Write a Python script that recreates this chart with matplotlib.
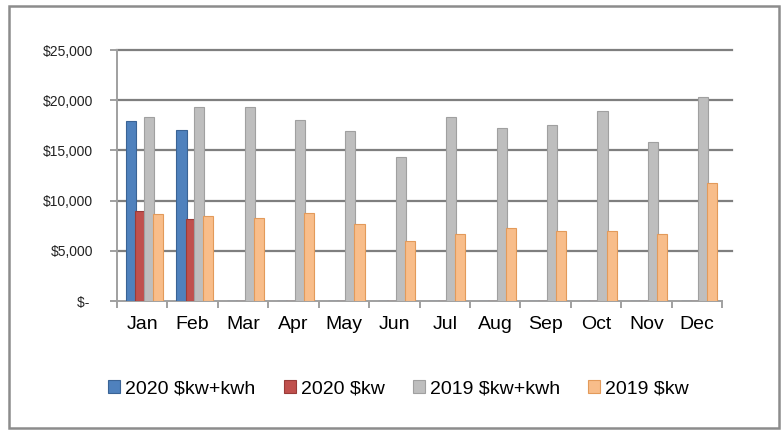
import numpy as np
import matplotlib
matplotlib.use("Agg")
import matplotlib.pyplot as plt
from matplotlib.patches import Rectangle

plt.rcParams['font.family'] = ['Liberation Sans', 'DejaVu Sans']

# data
months = ["Jan", "Feb", "Mar", "Apr", "May", "Jun",
          "Jul", "Aug", "Sep", "Oct", "Nov", "Dec"]
kw_kwh_2020 = [17900, 17000, 0, 0, 0, 0, 0, 0, 0, 0, 0, 0]
kw_2020 = [9000, 8200, 0, 0, 0, 0, 0, 0, 0, 0, 0, 0]
kw_kwh_2019 = [18300, 19300, 19300, 18000, 16900, 14300,
               18300, 17200, 17500, 18900, 15800, 20300]
kw_2019 = [8700, 8500, 8300, 8800, 7700, 6000,
           6700, 7300, 7000, 7000, 6700, 11800]
series_names = ["2020 $kw+kwh", "2020 $kw", "2019 $kw+kwh", "2019 $kw"]
y_ticks = [0, 5000, 10000, 15000, 20000, 25000]

fig = plt.figure(figsize=(7.82, 4.30), dpi=100)
ax = fig.add_axes([117 / 782, 1 - 301 / 430, (722 - 117) / 782, (301 - 50) / 430])

x = np.arange(len(months))
w = 0.2
offsets = [-0.22, -0.04, 0.13, 0.31]
colors = ["#4F81BD", "#C0504D", "#BEBEBE", "#F8BD8A"]
edges = ["#3A6395", "#993B38", "#A0A0A0", "#E39A5A"]
all_series = [kw_kwh_2020, kw_2020, kw_kwh_2019, kw_2019]

handles = []
for vals, off, c, e in zip(all_series, offsets, colors, edges):
    b = ax.bar(x + off, vals, width=w, color=c, edgecolor=e, linewidth=0.8, zorder=3)
    handles.append(b)

ax.set_xlim(-0.5, len(months) - 0.5)
ax.set_ylim(0, 25000)
ax.set_yticks(y_ticks)
ax.set_yticklabels(["$- " if v == 0 else "${:,.0f}".format(v) for v in y_ticks],
                   fontsize=10, color="#222222")
ax.set_xticks(x)
ax.set_xticklabels(months, fontsize=14)
ax.set_xticks(np.arange(-0.5, len(months)), minor=True)
ax.tick_params(axis="x", which="major", length=0, pad=11)
ax.tick_params(axis="x", which="minor", length=5, direction="out", color="#909090", width=1.2)
ax.tick_params(axis="y", length=5, direction="out", color="#909090", width=1.2, pad=12)

# gridlines run a little past the floor, as on the chart's back wall
for v in y_ticks[1:]:
    ax.axhline(v, xmin=0, xmax=1.016, color="#7F7F7F", linewidth=1.6,
               clip_on=False, zorder=1)
for s in ["top", "right"]:
    ax.spines[s].set_visible(False)
for s in ["left", "bottom"]:
    ax.spines[s].set_color("#A0A0A0")
    ax.spines[s].set_linewidth(1.4)

fig.legend(handles, series_names, loc="center left",
           bbox_to_anchor=(108 / 782, 1 - 389 / 430), ncol=4, frameon=False,
           fontsize=14, handlelength=0.62, handleheight=0.62,
           handletextpad=0.26, columnspacing=1.45, borderaxespad=0, borderpad=0)

# outer chart frame
fig.patches.append(Rectangle((9 / 782, 2 / 430), 770 / 782, 422 / 430,
                             transform=fig.transFigure, fill=False,
                             edgecolor="#8C8C8C", linewidth=1.8))

fig.savefig("out.png", dpi=100)
